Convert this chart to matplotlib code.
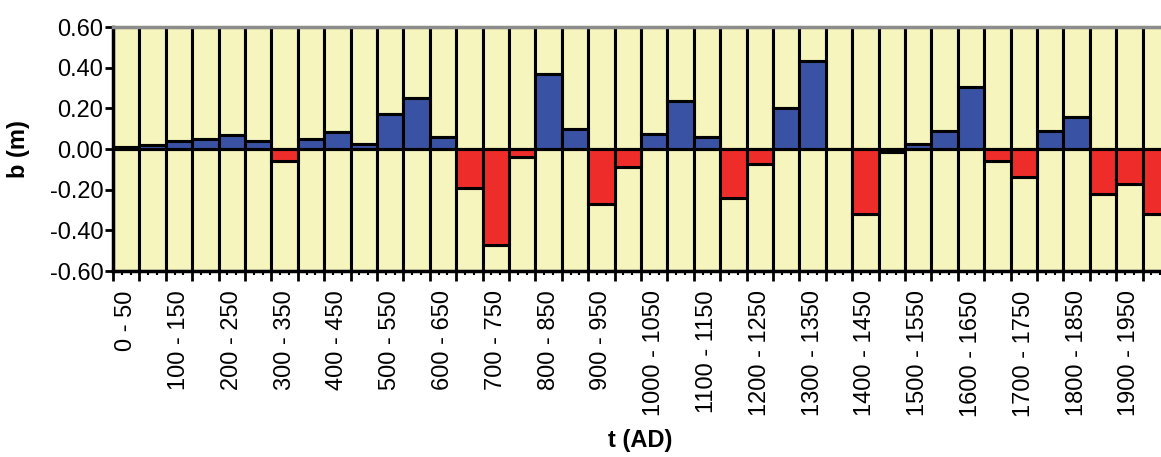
import matplotlib
matplotlib.use("Agg")
import matplotlib.pyplot as plt
import numpy as np
from matplotlib.ticker import FixedLocator, FuncFormatter

plt.rcParams['font.family'] = ['Liberation Sans', 'DejaVu Sans']
plt.rcParams['axes.unicode_minus'] = False

starts = list(range(0, 2000, 50))
labels = [f"{s} - {s + 50}" for s in starts]
values = [0.01, 0.02, 0.04, 0.05, 0.07, 0.04, -0.06, 0.05, 0.085, 0.025,
          0.17, 0.25, 0.06, -0.19, -0.47, -0.04, 0.37, 0.10, -0.27, -0.09,
          0.075, 0.235, 0.06, -0.24, -0.075, 0.20, 0.435, 0.0, -0.32, -0.015,
          0.025, 0.09, 0.305, -0.06, -0.14, 0.09, 0.155, -0.22, -0.17, -0.32]

ymin, ymax = -0.6, 0.6
yellow = '#F6F5BE'
blue = '#3A52A3'
red = '#EE2D2A'

W, H = 1161, 457
fig = plt.figure(figsize=(W / 100, H / 100), dpi=100)
ax = fig.add_axes([113 / W, (H - 271) / H, 1056 / W, 244 / H])

x = np.arange(len(values)) + 0.5
v = np.array(values)
pos = np.maximum(v, 0)
neg = np.minimum(v, 0)
lw = 2.2
# yellow upper part
ax.bar(x, ymax - pos, bottom=pos, width=1.0, color=yellow, edgecolor='black', linewidth=lw, zorder=2)
# yellow lower part
ax.bar(x, neg - ymin, bottom=ymin, width=1.0, color=yellow, edgecolor='black', linewidth=lw, zorder=2)
# colored part
cols = [blue if val >= 0 else red for val in values]
ax.bar(x, v, bottom=0, width=1.0, color=cols, edgecolor='black', linewidth=lw, zorder=3)
ax.axhline(0, color='black', linewidth=2.2, zorder=4)

ax.set_xlim(0, len(values))
ax.set_ylim(ymin, ymax)

ax.set_yticks(np.arange(-0.6, 0.61, 0.2))
ax.yaxis.set_major_formatter(FuncFormatter(lambda y, p: f"{y:.2f}" if abs(y) > 1e-9 else "0.00"))
ax.tick_params(axis='y', direction='out', length=6, width=2, labelsize=17, pad=1)

ax.xaxis.set_major_locator(FixedLocator(np.arange(0, len(values) + 1)))
ax.xaxis.set_minor_locator(FixedLocator([i + f for i in range(len(values)) for f in (1 / 3, 2 / 3)]))
ax.tick_params(axis='x', which='major', direction='out', length=7, width=2, labelbottom=False)
ax.tick_params(axis='x', which='minor', direction='out', length=3, width=1.5, labelbottom=False)

sec = ax.secondary_xaxis('bottom')
sec.set_xticks(x[::2])
sec.set_xticklabels(labels[::2], rotation=90, fontsize=17, va='top')
sec.tick_params(axis='x', length=0, pad=14)
sec.spines['bottom'].set_visible(False)

ax.spines['right'].set_visible(False)
ax.spines['top'].set_color('#8C8C8C')
ax.spines['top'].set_linewidth(2.5)
ax.spines['top'].set_zorder(5)
ax.spines['left'].set_linewidth(2.5)
ax.spines['bottom'].set_linewidth(2.5)

ax.set_ylabel('b (m)', fontsize=17, fontweight='bold', labelpad=14)
fig.text(640 / W, 1 - 440 / H, 't (AD)', fontsize=17, fontweight='bold', ha='center', va='center')

fig.savefig('out.png', dpi=100)
